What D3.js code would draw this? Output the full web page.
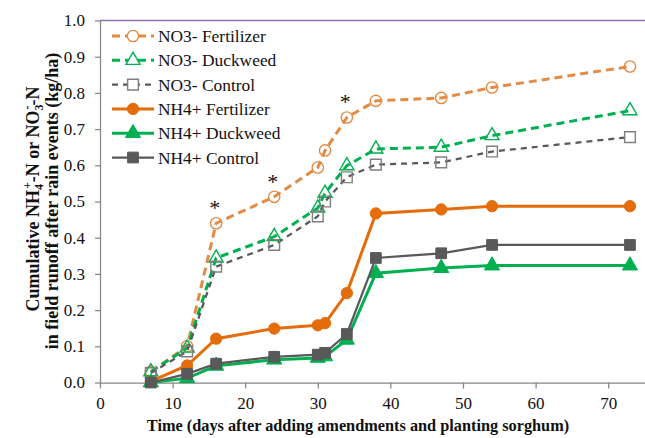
<!DOCTYPE html>
<html>
<head>
<meta charset="utf-8">
<script src="https://cdn.jsdelivr.net/npm/d3@7"></script>
<style>
  body { margin: 0; background: #fff; }
  svg { display: block; font-family: "Liberation Serif", "Times New Roman", serif; }
</style>
</head>
<body>
<svg id="chart" width="645" height="438"></svg>
<script>
// sampling days
const days = [7, 12, 16, 24, 30, 31, 34, 38, 47, 54, 73];
// cumulative N in runoff (kg/ha)
const no3Fert = [0.03, 0.10, 0.44, 0.513, 0.594, 0.641, 0.732, 0.778, 0.786, 0.815, 0.873];
const no3Duck = [0.03, 0.095, 0.344, 0.403, 0.482, 0.523, 0.599, 0.645, 0.65, 0.682, 0.751];
const no3Ctrl = [0.026, 0.086, 0.32, 0.38, 0.459, 0.50, 0.567, 0.602, 0.608, 0.638, 0.678];
const nh4Fert = [0.003, 0.047, 0.121, 0.149, 0.158, 0.164, 0.247, 0.467, 0.478, 0.487, 0.487];
const nh4Duck = [0.0, 0.012, 0.046, 0.063, 0.068, 0.072, 0.118, 0.302, 0.316, 0.323, 0.323];
const nh4Ctrl = [0.0, 0.024, 0.052, 0.071, 0.077, 0.082, 0.134, 0.344, 0.357, 0.380, 0.380];
const seriesNames = ["NO3- Fertilizer", "NO3- Duckweed", "NO3- Control", "NH4+ Fertilizer", "NH4+ Duckweed", "NH4+ Control"];
// significance marks
const starDays = [16, 24, 34];
const starValues = [0.49, 0.562, 0.784];
const xTicks = [0, 10, 20, 30, 40, 50, 60, 70];
const yTicks = [0, 0.1, 0.2, 0.3, 0.4, 0.5, 0.6, 0.7, 0.8, 0.9, 1.0];

const svg = d3.select("#chart");
const x = d3.scaleLinear().domain([0, 80]).range([100, 680.8]);
const y = d3.scaleLinear().domain([0, 1]).range([382.5, 20.5]);

const styles = [
    { values: no3Fert, color: "#E48A43", dash: "8,5", width: 3, shape: d3.symbolCircle, size: 100, filled: false },
    { values: no3Duck, color: "#00B050", dash: "8,5", width: 3, shape: d3.symbolTriangle, size: 85, filled: false },
    { values: no3Ctrl, color: "#595959", dash: "6,5", width: 2.25, shape: d3.symbolSquare, size: 115, filled: false, mstroke: "#7F7F7F" },
    { values: nh4Fert, color: "#E46C0A", dash: null, width: 3, shape: d3.symbolCircle, size: 100, filled: true },
    { values: nh4Duck, color: "#00B050", dash: null, width: 3, shape: d3.symbolTriangle, size: 100, filled: true },
    { values: nh4Ctrl, color: "#595959", dash: null, width: 2.25, shape: d3.symbolSquare, size: 115, filled: true }
];

// top border of plot area
svg.append("line")
    .attr("x1", 100).attr("x2", 645)
    .attr("y1", y(1)).attr("y2", y(1))
    .attr("stroke", "#8B74AD").attr("stroke-width", 1.5);

// axes
const gx = svg.append("g")
    .attr("transform", `translate(0,${y(0)})`)
    .call(d3.axisBottom(x).tickValues(xTicks).tickSize(6).tickSizeOuter(0).tickPadding(8));
const gy = svg.append("g")
    .attr("transform", `translate(${x(0)},0)`)
    .call(d3.axisLeft(y).tickValues(yTicks).tickFormat(d3.format(".1f")).tickSize(5).tickSizeOuter(0).tickPadding(10));
[gx, gy].forEach(g => {
    g.attr("font-family", null);
    g.select(".domain").attr("stroke", "#868686").attr("stroke-width", 1.25);
    g.selectAll(".tick line").attr("stroke", "#868686").attr("stroke-width", 1.25);
    g.selectAll(".tick text").attr("font-size", 17).attr("fill", "#111");
});

// lines and markers
const line = d3.line().x((d, i) => x(days[i])).y(d => y(d));
styles.forEach(s => {
    svg.append("path")
        .datum(s.values)
        .attr("d", line)
        .attr("fill", "none")
        .attr("stroke", s.color)
        .attr("stroke-width", s.width)
        .attr("stroke-dasharray", s.dash);
    svg.append("g").selectAll("path")
        .data(s.values)
        .join("path")
        .attr("transform", (d, i) => `translate(${x(days[i])},${y(d)})`)
        .attr("d", d3.symbol().type(s.shape).size(s.size))
        .attr("fill", s.filled ? s.color : "none")
        .attr("stroke", s.mstroke || s.color)
        .attr("stroke-width", s.filled ? 1 : 1.4);
});

// asterisks
svg.append("g").selectAll("text")
    .data(starDays)
    .join("text")
    .attr("x", d => x(d) - 1.5)
    .attr("y", (d, i) => y(starValues[i]) + 10)
    .attr("text-anchor", "middle")
    .attr("font-size", 22)
    .attr("fill", "#111")
    .text("*");

// legend
const legend = svg.append("g");
seriesNames.forEach((name, i) => {
    const s = styles[i];
    const ly = 36 + i * 24.3;
    legend.append("line")
        .attr("x1", 112).attr("x2", 154)
        .attr("y1", ly).attr("y2", ly)
        .attr("stroke", s.color).attr("stroke-width", s.width)
        .attr("stroke-dasharray", s.dash);
    legend.append("path")
        .attr("transform", `translate(133,${ly})`)
        .attr("d", d3.symbol().type(s.shape).size(s.size))
        .attr("fill", s.filled ? s.color : "#fff")
        .attr("stroke", s.mstroke || s.color)
        .attr("stroke-width", s.filled ? 1 : 1.4);
    legend.append("text")
        .attr("x", 158).attr("y", ly + 6)
        .attr("font-size", 17.4).attr("fill", "#111")
        .text(name);
});

// axis titles
svg.append("text")
    .attr("x", 358).attr("y", 431)
    .attr("text-anchor", "middle")
    .attr("font-size", 16.3).attr("font-weight", "bold").attr("fill", "#111")
    .text("Time (days after adding amendments and planting sorghum)");

const yt1 = svg.append("text")
    .attr("transform", "translate(39,199) rotate(-90)")
    .attr("text-anchor", "middle")
    .attr("font-size", 18).attr("font-weight", "bold").attr("fill", "#111");
yt1.append("tspan").text("Cumulative NH");
yt1.append("tspan").attr("font-size", 12).attr("dy", 4).text("4");
yt1.append("tspan").attr("font-size", 12).attr("dx", -5).attr("dy", -12).text("+");
yt1.append("tspan").attr("dy", 8).text("-N or NO");
yt1.append("tspan").attr("font-size", 12).attr("dy", 4).text("3");
yt1.append("tspan").attr("font-size", 12).attr("dx", -5).attr("dy", -12).text("-");
yt1.append("tspan").attr("dy", 8).text("-N");

svg.append("text")
    .attr("transform", "translate(58,201) rotate(-90)")
    .attr("text-anchor", "middle")
    .attr("font-size", 18).attr("font-weight", "bold").attr("fill", "#111")
    .text("in field runoff after rain events (kg/ha)");
</script>
</body>
</html>
